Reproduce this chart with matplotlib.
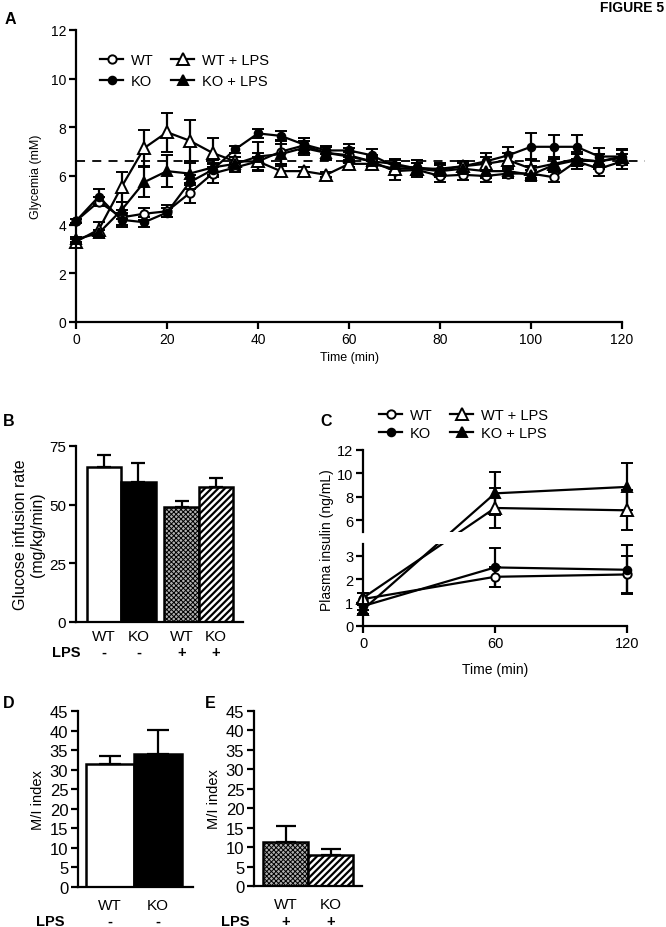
import numpy as np
import matplotlib as mpl
import matplotlib.pyplot as plt
from matplotlib.lines import Line2D

plt.rcParams['font.family'] = ['Liberation Sans', 'DejaVu Sans']
plt.rcParams['axes.linewidth'] = 1.6
plt.rcParams['xtick.major.width'] = 1.6
plt.rcParams['ytick.major.width'] = 1.6
plt.rcParams['xtick.major.size'] = 5
plt.rcParams['ytick.major.size'] = 5
plt.rcParams['font.size'] = 10

# ---- panel A: glycemia during clamp ----
time_a = [0, 5, 10, 15, 20, 25, 30, 35, 40, 45, 50, 55, 60,
          65, 70, 75, 80, 85, 90, 95, 100, 105, 110, 115, 120]
wt_a = [4.15, 4.95, 4.3, 4.45, 4.55, 5.3, 6.1, 6.35, 6.6, 7.0, 7.25, 6.95, 6.85,
        6.6, 6.2, 6.25, 6.0, 6.05, 6.0, 6.1, 6.1, 5.95, 6.6, 6.3, 6.6]
wt_a_err = [0.1, 0.2, 0.3, 0.25, 0.25, 0.4, 0.4, 0.2, 0.2, 0.5, 0.3, 0.25, 0.3,
            0.25, 0.35, 0.3, 0.25, 0.2, 0.25, 0.2, 0.3, 0.2, 0.3, 0.3, 0.3]
ko_a = [4.15, 5.15, 4.2, 4.1, 4.5, 5.75, 6.25, 7.1, 7.75, 7.65, 7.3, 7.05, 7.05,
        6.85, 6.4, 6.35, 6.25, 6.4, 6.6, 6.85, 7.2, 7.2, 7.2, 6.8, 6.8]
ko_a_err = [0.1, 0.3, 0.3, 0.2, 0.2, 0.3, 0.3, 0.15, 0.2, 0.2, 0.25, 0.15, 0.25,
            0.25, 0.25, 0.3, 0.3, 0.2, 0.35, 0.35, 0.55, 0.5, 0.5, 0.35, 0.3]
wtlps_a = [3.3, 3.8, 5.55, 7.15, 7.8, 7.45, 6.95, 6.6, 6.6, 6.2, 6.2, 6.05, 6.5,
           6.5, 6.3, 6.3, 6.3, 6.4, 6.5, 6.65, 6.3, 6.5, 6.7, 6.6, 6.8]
wtlps_a_err = [0.1, 0.3, 0.6, 0.75, 0.8, 0.85, 0.6, 0.2, 0.35, 0.2, 0.15, 0.1, 0.15,
               0.2, 0.2, 0.25, 0.2, 0.2, 0.3, 0.3, 0.4, 0.3, 0.3, 0.3, 0.3]
kolps_a = [3.4, 3.65, 4.6, 5.75, 6.2, 6.1, 6.35, 6.5, 6.8, 6.9, 7.15, 6.95, 6.8,
           6.6, 6.5, 6.3, 6.2, 6.3, 6.2, 6.2, 6.05, 6.45, 6.65, 6.6, 6.75]
kolps_a_err = [0.1, 0.15, 0.35, 0.6, 0.65, 0.45, 0.3, 0.3, 0.6, 0.4, 0.3, 0.3, 0.2,
               0.2, 0.2, 0.25, 0.25, 0.25, 0.3, 0.25, 0.2, 0.25, 0.25, 0.3, 0.3]
target_glycemia = 6.6

# ---- panel B: glucose infusion rate ----
groups_b = ['WT', 'KO', 'WT', 'KO']
lps_b = ['-', '-', '+', '+']
gir = [65.9, 59.5, 49.1, 57.4]
gir_err = [5.4, 8.1, 2.6, 4.0]

# ---- panel C: plasma insulin ----
time_c = [0, 60, 120]
wt_c = [1.15, 2.1, 2.2]
wt_c_err = [0.25, 0.43, 0.8]
ko_c = [0.85, 2.5, 2.4]
ko_c_err = [0.15, 0.85, 1.05]
wtlps_c = [1.2, 7.05, 6.85]
wtlps_c_err = [0.2, 1.7, 1.7]
kolps_c = [0.7, 8.3, 8.85]
kolps_c_err = [0.2, 1.85, 2.0]

# ---- panels D / E: M/I index ----
groups_d = ['WT', 'KO']
lps_d = ['-', '-']
mi_d = [31.5, 34.1]
mi_d_err = [2.0, 6.1]
groups_e = ['WT', 'KO']
lps_e = ['+', '+']
mi_e = [11.3, 8.1]
mi_e_err = [4.1, 1.3]

W, H = 666, 928
fig = plt.figure(figsize=(W / 100, H / 100), dpi=100)


def box(l, t, r, b):
    return [l / W, 1 - b / H, (r - l) / W, (b - t) / H]


def fx(px):
    return px / W


def fy(py):
    return 1 - py / H


styles = {
    'WT': dict(marker='o', mfc='white', ms=6),
    'KO': dict(marker='o', mfc='black', ms=5.5),
    'WT + LPS': dict(marker='^', mfc='white', ms=8),
    'KO + LPS': dict(marker='^', mfc='black', ms=7),
}


def clean(ax, size=10):
    ax.spines['top'].set_visible(False)
    ax.spines['right'].set_visible(False)
    ax.tick_params(direction='out', labelsize=size, pad=2)


def err_series(ax, x, y, e, name, cap=4):
    c = ax.errorbar(x, y, yerr=e, color='black', mec='black', lw=1.6,
                    elinewidth=1.6, capsize=cap, capthick=1.6, mew=1.4,
                    **styles[name])
    for a in c.get_children():
        a.set_clip_on(False)
    return c


# ================= A =================
axA = fig.add_axes(box(76, 31, 622, 323))
clean(axA)
axA.set_xlim(0, 120)
axA.set_ylim(0, 12)
axA.set_xticks([0, 20, 40, 60, 80, 100, 120])
axA.set_yticks([0, 2, 4, 6, 8, 10, 12])
axA.plot([0, 125], [target_glycemia, target_glycemia], ls=(0, (5, 4)),
         color='black', lw=1.3, clip_on=False)
err_series(axA, time_a, wt_a, wt_a_err, 'WT')
err_series(axA, time_a, ko_a, ko_a_err, 'KO')
err_series(axA, time_a, wtlps_a, wtlps_a_err, 'WT + LPS')
err_series(axA, time_a, kolps_a, kolps_a_err, 'KO + LPS')
axA.set_xlabel('Time (min)', fontsize=9, labelpad=4)
axA.set_ylabel('Glycemia (mM)', fontsize=9, labelpad=6)


def legend_handles():
    return [Line2D([], [], color='black', lw=1.6, mec='black', mew=1.4, **styles[n])
            for n in ['WT', 'KO', 'WT + LPS', 'KO + LPS']]


axA.legend(legend_handles(), ['WT', 'KO', 'WT + LPS', 'KO + LPS'], ncol=2,
           frameon=False, loc='upper left', bbox_to_anchor=(0.02, 0.965),
           handlelength=1.6, handletextpad=0.5, columnspacing=1.2,
           labelspacing=0.45, fontsize=10.5)


# ================= bar helper =================
def bar_panel(ax, pos, vals, errs, fills, hatches, hatch_lw, cap, ymax, yticks,
              size=10):
    clean(ax, size)
    for p, v, f, h, hl in zip(pos, vals, fills, hatches, hatch_lw):
        with mpl.rc_context({'hatch.linewidth': hl}):
            b = ax.bar(p, v, width=1.0, color=f, edgecolor='black',
                       linewidth=1.8, hatch=h)
            for patch in b:
                if hasattr(patch, 'set_hatch_linewidth'):
                    patch.set_hatch_linewidth(hl)
    ax.errorbar(pos, vals, yerr=[[0] * len(vals), errs], fmt='none',
                ecolor='black', elinewidth=1.6, capsize=cap, capthick=1.6)
    ax.set_ylim(0, ymax)
    ax.set_yticks(yticks)


stipple = ('#b0b0b0', 'xxxxxxx', 0.7)
stripes = ('white', '/////', 1.6)

# ================= B =================
axB = fig.add_axes(box(76, 447, 243, 623))
pos_b = [0, 1, 2.25, 3.25]
bar_panel(axB, pos_b, gir, gir_err,
          ['white', 'black', stipple[0], stripes[0]],
          [None, None, stipple[1], stripes[1]],
          [1.0, 1.0, stipple[2], stripes[2]], 5, 75, [0, 25, 50, 75], size=11)
axB.set_xlim(-0.81, 4.03)
axB.set_xticks(pos_b)
axB.set_xticklabels(groups_b)
axB.tick_params(axis='x', length=0, pad=5)
axB.set_ylabel('Glucose infusion rate\n(mg/kg/min)', fontsize=11.5, labelpad=3)
for p, s in zip(pos_b, lps_b):
    axB.annotate(s, (p, 0), xycoords=('data', 'axes fraction'),
                 xytext=(0, -30), textcoords='offset pixels',
                 ha='center', va='center', fontweight='bold', fontsize=10.5)
fig.text(fx(66), fy(653), 'LPS', ha='center', va='center',
         fontweight='bold', fontsize=10.5)

# ================= C =================
axChi = fig.add_axes(box(363, 451, 627, 533))
axClo = fig.add_axes(box(363, 545, 627, 627))
for ax in (axChi, axClo):
    clean(ax, 10.5)
    ax.set_xlim(0, 120)
axChi.set_ylim(5, 12)
axChi.set_yticks([6, 8, 10, 12])
axChi.spines['bottom'].set_visible(False)
axChi.set_xticks([])
axClo.set_ylim(0, 3.5)
axClo.set_yticks([0, 1, 2, 3])
axClo.set_xticks([0, 60, 120])
axClo.set_xlabel('Time (min)', fontsize=10, labelpad=9)
fig.text(fx(327), fy(540), 'Plasma insulin (ng/mL)', rotation=90,
         ha='center', va='center', fontsize=10)


def lo_to_hi(y):
    d = axClo.transData.transform((0, y))
    return axChi.transData.inverted().transform(d)[1]


def hi_to_lo(y):
    d = axChi.transData.transform((0, y))
    return axClo.transData.inverted().transform(d)[1]


# low groups entirely in lower axis
err_series(axClo, time_c, wt_c, wt_c_err, 'WT', cap=4)
err_series(axClo, time_c, ko_c, ko_c_err, 'KO', cap=4)
# LPS groups: first point low, later points high, line broken across gap
for name, y, e in [('WT + LPS', wtlps_c, wtlps_c_err),
                   ('KO + LPS', kolps_c, kolps_c_err)]:
    axClo.plot(time_c[:2], [y[0], hi_to_lo(y[1])], color='black', lw=1.6)
    axChi.plot(time_c[:2], [lo_to_hi(y[0]), y[1]], color='black', lw=1.6)
    err_series(axClo, time_c[:1], y[:1], e[:1], name, cap=4)
    err_series(axChi, time_c[1:], y[1:], e[1:], name, cap=4)

fig.legend(legend_handles(), ['WT', 'KO', 'WT + LPS', 'KO + LPS'], ncol=2,
           frameon=False, loc='center left', bbox_to_anchor=(fx(366), fy(425)),
           handlelength=1.6, handletextpad=0.5, columnspacing=1.2,
           labelspacing=0.3, fontsize=10.5)

# ================= D =================
axD = fig.add_axes(box(78, 712, 193, 888))
bar_panel(axD, [0, 1], mi_d, mi_d_err, ['white', 'black'], [None, None],
          [1.0, 1.0], 8, 45, list(range(0, 46, 5)), size=12)
axD.set_xlim(-0.67, 1.73)
axD.set_xticks([0, 1])
axD.set_xticklabels(groups_d, fontsize=11)
axD.tick_params(axis='x', length=0, pad=8)
axD.set_ylabel('M/I index', fontsize=10.5, labelpad=3)
for p, s in zip([0, 1], lps_d):
    axD.annotate(s, (p, 0), xycoords=('data', 'axes fraction'),
                 xytext=(0, -34), textcoords='offset pixels',
                 ha='center', va='center', fontweight='bold', fontsize=10.5)
fig.text(fx(50), fy(922), 'LPS', ha='center', va='center',
         fontweight='bold', fontsize=10.5)

# ================= E =================
axE = fig.add_axes(box(254, 712, 362, 887))
bar_panel(axE, [0, 1], mi_e, mi_e_err, [stipple[0], stripes[0]],
          [stipple[1], stripes[1]], [stipple[2], stripes[2]], 7, 45,
          list(range(0, 46, 5)), size=12)
axE.set_xlim(-0.7, 1.7)
axE.set_xticks([0, 1])
axE.set_xticklabels(groups_e, fontsize=11)
axE.tick_params(axis='x', length=0, pad=8)
axE.set_ylabel('M/I index', fontsize=10.5, labelpad=3)
for p, s in zip([0, 1], lps_e):
    axE.annotate(s, (p, 0), xycoords=('data', 'axes fraction'),
                 xytext=(0, -35), textcoords='offset pixels',
                 ha='center', va='center', fontweight='bold', fontsize=10.5)
fig.text(fx(235), fy(922), 'LPS', ha='center', va='center',
         fontweight='bold', fontsize=10.5)

# panel letters
for lab, x, y in [('A', 10, 20), ('B', 9, 422), ('C', 326, 422),
                  ('D', 9, 703), ('E', 210, 703)]:
    fig.text(fx(x), fy(y), lab, ha='center', va='center',
             fontweight='bold', fontsize=11.5)
fig.text(fx(664), fy(8), 'FIGURE 5', ha='right', va='center',
         fontweight='bold', fontsize=10)

fig.savefig('out.png', dpi=100)
